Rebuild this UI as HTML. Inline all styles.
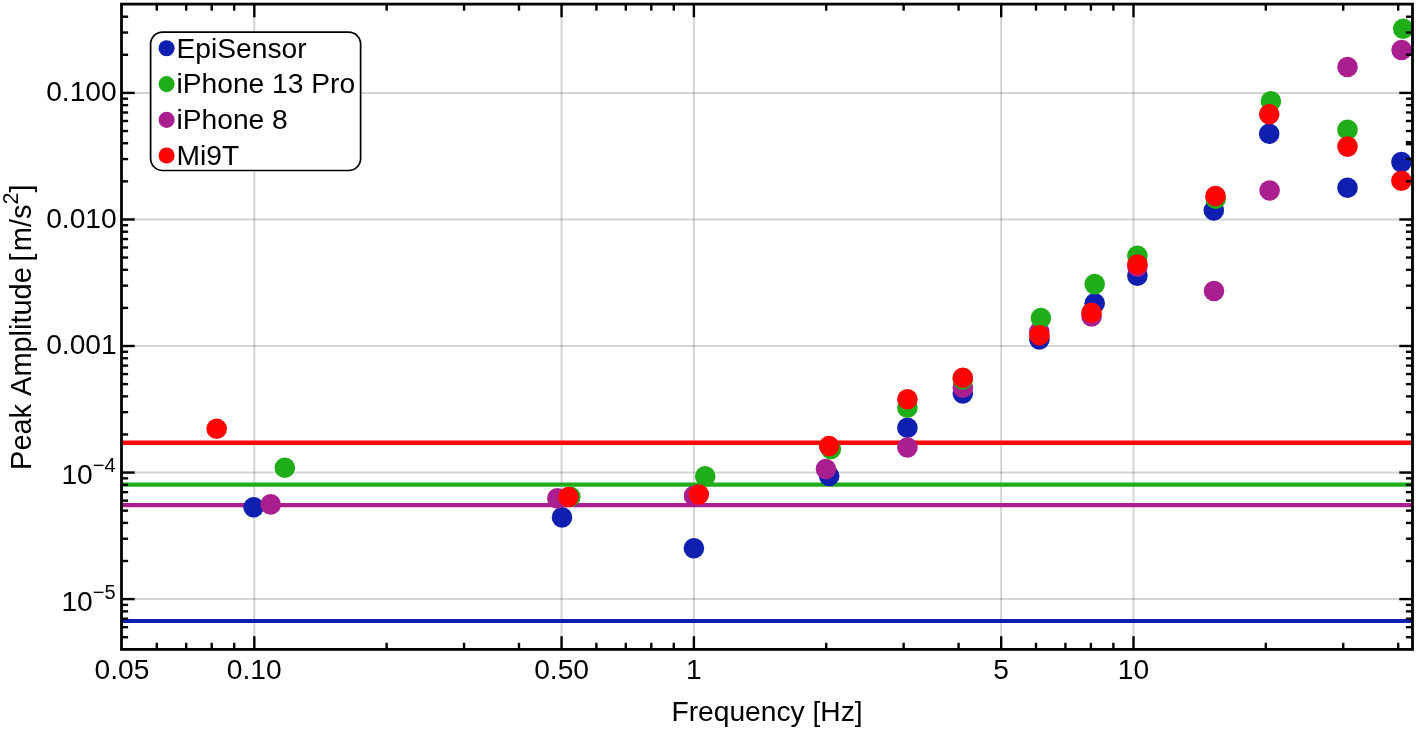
<!DOCTYPE html>
<html lang="en">
<head>
<meta charset="utf-8">
<title>Peak Amplitude vs Frequency</title>
<style>
html,body{margin:0;padding:0;background:#fff;}
body{width:1416px;height:731px;overflow:hidden;}
svg text{font-family:"Liberation Sans",Arial,Helvetica,sans-serif;font-kerning:none;}
</style>
</head>
<body>
<svg width="1416" height="731" viewBox="0 0 1416 731" style="display:block">
<rect width="1416" height="731" fill="#ffffff"/>
<g stroke="#000" stroke-opacity="0.17" stroke-width="2" fill="none">
<line x1="254.30" y1="4.1" x2="254.30" y2="649.4"/>
<line x1="561.57" y1="4.1" x2="561.57" y2="649.4"/>
<line x1="693.90" y1="4.1" x2="693.90" y2="649.4"/>
<line x1="1001.17" y1="4.1" x2="1001.17" y2="649.4"/>
<line x1="1133.50" y1="4.1" x2="1133.50" y2="649.4"/>
<line x1="121.5" y1="92.90" x2="1412.5" y2="92.90"/>
<line x1="121.5" y1="219.45" x2="1412.5" y2="219.45"/>
<line x1="121.5" y1="346.00" x2="1412.5" y2="346.00"/>
<line x1="121.5" y1="472.55" x2="1412.5" y2="472.55"/>
<line x1="121.5" y1="599.10" x2="1412.5" y2="599.10"/>
</g>
<line x1="121.5" y1="442.8" x2="1412.5" y2="442.8" stroke="#fe0505" stroke-width="4.6"/>
<line x1="121.5" y1="484.7" x2="1412.5" y2="484.7" stroke="#1fae19" stroke-width="4.2"/>
<line x1="121.5" y1="505.1" x2="1412.5" y2="505.1" stroke="#aa1f8f" stroke-width="4.2"/>
<line x1="121.5" y1="621.0" x2="1412.5" y2="621.0" stroke="#0f1fb0" stroke-width="4.2"/>
<g fill="#0f1fb0">
<circle cx="253.6" cy="507.2" r="10.3"/>
<circle cx="562" cy="517.4" r="10.3"/>
<circle cx="693.9" cy="548.2" r="10.3"/>
<circle cx="829.2" cy="476.0" r="10.3"/>
<circle cx="907.4" cy="427.8" r="10.3"/>
<circle cx="962.8" cy="393.4" r="10.3"/>
<circle cx="1039.4" cy="339.5" r="10.3"/>
<circle cx="1094.7" cy="303.3" r="10.3"/>
<circle cx="1137.4" cy="275.8" r="10.3"/>
<circle cx="1213.8" cy="210.5" r="10.3"/>
<circle cx="1269.2" cy="133.8" r="10.3"/>
<circle cx="1347.5" cy="187.7" r="10.3"/>
<circle cx="1401.4" cy="162.1" r="10.3"/>
</g>
<g fill="#aa1f8f">
<circle cx="270.7" cy="504.4" r="10.3"/>
<circle cx="557.3" cy="498.4" r="10.3"/>
<circle cx="694" cy="495.9" r="10.3"/>
<circle cx="825.9" cy="469.0" r="10.3"/>
<circle cx="907.4" cy="447.5" r="10.3"/>
<circle cx="962.8" cy="387.8" r="10.3"/>
<circle cx="1039.3" cy="331.8" r="10.3"/>
<circle cx="1091.6" cy="316.5" r="10.3"/>
<circle cx="1137.4" cy="266.8" r="10.3"/>
<circle cx="1214" cy="291.0" r="10.3"/>
<circle cx="1269.6" cy="190.5" r="10.3"/>
<circle cx="1347.5" cy="67.0" r="10.3"/>
<circle cx="1401.6" cy="50.0" r="10.3"/>
</g>
<g fill="#1fae19">
<circle cx="284.8" cy="467.8" r="10.3"/>
<circle cx="570.4" cy="496.7" r="10.3"/>
<circle cx="705.2" cy="476.3" r="10.3"/>
<circle cx="830.9" cy="449.0" r="10.3"/>
<circle cx="907.4" cy="407.8" r="10.3"/>
<circle cx="962.8" cy="379.5" r="10.3"/>
<circle cx="1040.9" cy="318.1" r="10.3"/>
<circle cx="1094.7" cy="284.1" r="10.3"/>
<circle cx="1137.4" cy="255.7" r="10.3"/>
<circle cx="1215.7" cy="198.7" r="10.3"/>
<circle cx="1270.9" cy="101.2" r="10.3"/>
<circle cx="1347.5" cy="129.7" r="10.3"/>
<circle cx="1403.2" cy="28.8" r="10.3"/>
</g>
<g fill="#fe0505">
<circle cx="216.7" cy="428.7" r="10.3"/>
<circle cx="568.5" cy="497.0" r="10.3"/>
<circle cx="698.8" cy="494.5" r="10.3"/>
<circle cx="829.1" cy="446.0" r="10.3"/>
<circle cx="907.4" cy="399.2" r="10.3"/>
<circle cx="962.8" cy="377.8" r="10.3"/>
<circle cx="1039.4" cy="335.2" r="10.3"/>
<circle cx="1091.5" cy="312.8" r="10.3"/>
<circle cx="1137.4" cy="264.5" r="10.3"/>
<circle cx="1215.5" cy="196.0" r="10.3"/>
<circle cx="1269.2" cy="114.2" r="10.3"/>
<circle cx="1347.5" cy="146.6" r="10.3"/>
<circle cx="1401.4" cy="180.8" r="10.3"/>
</g>
<g stroke="#000" stroke-width="2.4" fill="none">
<line x1="254.30" y1="649.4" x2="254.30" y2="636.20"/>
<line x1="254.30" y1="4.1" x2="254.30" y2="17.30"/>
<line x1="561.57" y1="649.4" x2="561.57" y2="636.20"/>
<line x1="561.57" y1="4.1" x2="561.57" y2="17.30"/>
<line x1="693.90" y1="649.4" x2="693.90" y2="636.20"/>
<line x1="693.90" y1="4.1" x2="693.90" y2="17.30"/>
<line x1="1001.17" y1="649.4" x2="1001.17" y2="636.20"/>
<line x1="1001.17" y1="4.1" x2="1001.17" y2="17.30"/>
<line x1="1133.50" y1="649.4" x2="1133.50" y2="636.20"/>
<line x1="1133.50" y1="4.1" x2="1133.50" y2="17.30"/>
<line x1="156.78" y1="649.4" x2="156.78" y2="642.80"/>
<line x1="156.78" y1="4.1" x2="156.78" y2="10.70"/>
<line x1="186.21" y1="649.4" x2="186.21" y2="642.80"/>
<line x1="186.21" y1="4.1" x2="186.21" y2="10.70"/>
<line x1="211.70" y1="649.4" x2="211.70" y2="642.80"/>
<line x1="211.70" y1="4.1" x2="211.70" y2="10.70"/>
<line x1="234.19" y1="649.4" x2="234.19" y2="642.80"/>
<line x1="234.19" y1="4.1" x2="234.19" y2="10.70"/>
<line x1="386.63" y1="649.4" x2="386.63" y2="642.80"/>
<line x1="386.63" y1="4.1" x2="386.63" y2="10.70"/>
<line x1="464.04" y1="649.4" x2="464.04" y2="642.80"/>
<line x1="464.04" y1="4.1" x2="464.04" y2="10.70"/>
<line x1="518.97" y1="649.4" x2="518.97" y2="642.80"/>
<line x1="518.97" y1="4.1" x2="518.97" y2="10.70"/>
<line x1="596.38" y1="649.4" x2="596.38" y2="642.80"/>
<line x1="596.38" y1="4.1" x2="596.38" y2="10.70"/>
<line x1="625.81" y1="649.4" x2="625.81" y2="642.80"/>
<line x1="625.81" y1="4.1" x2="625.81" y2="10.70"/>
<line x1="651.30" y1="649.4" x2="651.30" y2="642.80"/>
<line x1="651.30" y1="4.1" x2="651.30" y2="10.70"/>
<line x1="673.79" y1="649.4" x2="673.79" y2="642.80"/>
<line x1="673.79" y1="4.1" x2="673.79" y2="10.70"/>
<line x1="826.23" y1="649.4" x2="826.23" y2="642.80"/>
<line x1="826.23" y1="4.1" x2="826.23" y2="10.70"/>
<line x1="903.64" y1="649.4" x2="903.64" y2="642.80"/>
<line x1="903.64" y1="4.1" x2="903.64" y2="10.70"/>
<line x1="958.57" y1="649.4" x2="958.57" y2="642.80"/>
<line x1="958.57" y1="4.1" x2="958.57" y2="10.70"/>
<line x1="1035.98" y1="649.4" x2="1035.98" y2="642.80"/>
<line x1="1035.98" y1="4.1" x2="1035.98" y2="10.70"/>
<line x1="1065.41" y1="649.4" x2="1065.41" y2="642.80"/>
<line x1="1065.41" y1="4.1" x2="1065.41" y2="10.70"/>
<line x1="1090.90" y1="649.4" x2="1090.90" y2="642.80"/>
<line x1="1090.90" y1="4.1" x2="1090.90" y2="10.70"/>
<line x1="1113.39" y1="649.4" x2="1113.39" y2="642.80"/>
<line x1="1113.39" y1="4.1" x2="1113.39" y2="10.70"/>
<line x1="1265.83" y1="649.4" x2="1265.83" y2="642.80"/>
<line x1="1265.83" y1="4.1" x2="1265.83" y2="10.70"/>
<line x1="1343.24" y1="649.4" x2="1343.24" y2="642.80"/>
<line x1="1343.24" y1="4.1" x2="1343.24" y2="10.70"/>
<line x1="1398.17" y1="649.4" x2="1398.17" y2="642.80"/>
<line x1="1398.17" y1="4.1" x2="1398.17" y2="10.70"/>
<line x1="121.5" y1="92.90" x2="134.70" y2="92.90"/>
<line x1="1412.5" y1="92.90" x2="1399.30" y2="92.90"/>
<line x1="121.5" y1="219.45" x2="134.70" y2="219.45"/>
<line x1="1412.5" y1="219.45" x2="1399.30" y2="219.45"/>
<line x1="121.5" y1="346.00" x2="134.70" y2="346.00"/>
<line x1="1412.5" y1="346.00" x2="1399.30" y2="346.00"/>
<line x1="121.5" y1="472.55" x2="134.70" y2="472.55"/>
<line x1="1412.5" y1="472.55" x2="1399.30" y2="472.55"/>
<line x1="121.5" y1="599.10" x2="134.70" y2="599.10"/>
<line x1="1412.5" y1="599.10" x2="1399.30" y2="599.10"/>
<line x1="121.5" y1="637.20" x2="128.10" y2="637.20"/>
<line x1="1412.5" y1="637.20" x2="1405.90" y2="637.20"/>
<line x1="121.5" y1="627.17" x2="128.10" y2="627.17"/>
<line x1="1412.5" y1="627.17" x2="1405.90" y2="627.17"/>
<line x1="121.5" y1="618.70" x2="128.10" y2="618.70"/>
<line x1="1412.5" y1="618.70" x2="1405.90" y2="618.70"/>
<line x1="121.5" y1="611.36" x2="128.10" y2="611.36"/>
<line x1="1412.5" y1="611.36" x2="1405.90" y2="611.36"/>
<line x1="121.5" y1="604.89" x2="128.10" y2="604.89"/>
<line x1="1412.5" y1="604.89" x2="1405.90" y2="604.89"/>
<line x1="121.5" y1="561.00" x2="128.10" y2="561.00"/>
<line x1="1412.5" y1="561.00" x2="1405.90" y2="561.00"/>
<line x1="121.5" y1="538.72" x2="128.10" y2="538.72"/>
<line x1="1412.5" y1="538.72" x2="1405.90" y2="538.72"/>
<line x1="121.5" y1="522.91" x2="128.10" y2="522.91"/>
<line x1="1412.5" y1="522.91" x2="1405.90" y2="522.91"/>
<line x1="121.5" y1="510.65" x2="128.10" y2="510.65"/>
<line x1="1412.5" y1="510.65" x2="1405.90" y2="510.65"/>
<line x1="121.5" y1="500.62" x2="128.10" y2="500.62"/>
<line x1="1412.5" y1="500.62" x2="1405.90" y2="500.62"/>
<line x1="121.5" y1="492.15" x2="128.10" y2="492.15"/>
<line x1="1412.5" y1="492.15" x2="1405.90" y2="492.15"/>
<line x1="121.5" y1="484.81" x2="128.10" y2="484.81"/>
<line x1="1412.5" y1="484.81" x2="1405.90" y2="484.81"/>
<line x1="121.5" y1="478.34" x2="128.10" y2="478.34"/>
<line x1="1412.5" y1="478.34" x2="1405.90" y2="478.34"/>
<line x1="121.5" y1="434.45" x2="128.10" y2="434.45"/>
<line x1="1412.5" y1="434.45" x2="1405.90" y2="434.45"/>
<line x1="121.5" y1="412.17" x2="128.10" y2="412.17"/>
<line x1="1412.5" y1="412.17" x2="1405.90" y2="412.17"/>
<line x1="121.5" y1="396.36" x2="128.10" y2="396.36"/>
<line x1="1412.5" y1="396.36" x2="1405.90" y2="396.36"/>
<line x1="121.5" y1="384.10" x2="128.10" y2="384.10"/>
<line x1="1412.5" y1="384.10" x2="1405.90" y2="384.10"/>
<line x1="121.5" y1="374.07" x2="128.10" y2="374.07"/>
<line x1="1412.5" y1="374.07" x2="1405.90" y2="374.07"/>
<line x1="121.5" y1="365.60" x2="128.10" y2="365.60"/>
<line x1="1412.5" y1="365.60" x2="1405.90" y2="365.60"/>
<line x1="121.5" y1="358.26" x2="128.10" y2="358.26"/>
<line x1="1412.5" y1="358.26" x2="1405.90" y2="358.26"/>
<line x1="121.5" y1="351.79" x2="128.10" y2="351.79"/>
<line x1="1412.5" y1="351.79" x2="1405.90" y2="351.79"/>
<line x1="121.5" y1="307.90" x2="128.10" y2="307.90"/>
<line x1="1412.5" y1="307.90" x2="1405.90" y2="307.90"/>
<line x1="121.5" y1="285.62" x2="128.10" y2="285.62"/>
<line x1="1412.5" y1="285.62" x2="1405.90" y2="285.62"/>
<line x1="121.5" y1="269.81" x2="128.10" y2="269.81"/>
<line x1="1412.5" y1="269.81" x2="1405.90" y2="269.81"/>
<line x1="121.5" y1="257.55" x2="128.10" y2="257.55"/>
<line x1="1412.5" y1="257.55" x2="1405.90" y2="257.55"/>
<line x1="121.5" y1="247.52" x2="128.10" y2="247.52"/>
<line x1="1412.5" y1="247.52" x2="1405.90" y2="247.52"/>
<line x1="121.5" y1="239.05" x2="128.10" y2="239.05"/>
<line x1="1412.5" y1="239.05" x2="1405.90" y2="239.05"/>
<line x1="121.5" y1="231.71" x2="128.10" y2="231.71"/>
<line x1="1412.5" y1="231.71" x2="1405.90" y2="231.71"/>
<line x1="121.5" y1="225.24" x2="128.10" y2="225.24"/>
<line x1="1412.5" y1="225.24" x2="1405.90" y2="225.24"/>
<line x1="121.5" y1="181.35" x2="128.10" y2="181.35"/>
<line x1="1412.5" y1="181.35" x2="1405.90" y2="181.35"/>
<line x1="121.5" y1="159.07" x2="128.10" y2="159.07"/>
<line x1="1412.5" y1="159.07" x2="1405.90" y2="159.07"/>
<line x1="121.5" y1="143.26" x2="128.10" y2="143.26"/>
<line x1="1412.5" y1="143.26" x2="1405.90" y2="143.26"/>
<line x1="121.5" y1="131.00" x2="128.10" y2="131.00"/>
<line x1="1412.5" y1="131.00" x2="1405.90" y2="131.00"/>
<line x1="121.5" y1="120.97" x2="128.10" y2="120.97"/>
<line x1="1412.5" y1="120.97" x2="1405.90" y2="120.97"/>
<line x1="121.5" y1="112.50" x2="128.10" y2="112.50"/>
<line x1="1412.5" y1="112.50" x2="1405.90" y2="112.50"/>
<line x1="121.5" y1="105.16" x2="128.10" y2="105.16"/>
<line x1="1412.5" y1="105.16" x2="1405.90" y2="105.16"/>
<line x1="121.5" y1="98.69" x2="128.10" y2="98.69"/>
<line x1="1412.5" y1="98.69" x2="1405.90" y2="98.69"/>
<line x1="121.5" y1="54.80" x2="128.10" y2="54.80"/>
<line x1="1412.5" y1="54.80" x2="1405.90" y2="54.80"/>
<line x1="121.5" y1="32.52" x2="128.10" y2="32.52"/>
<line x1="1412.5" y1="32.52" x2="1405.90" y2="32.52"/>
<line x1="121.5" y1="16.71" x2="128.10" y2="16.71"/>
<line x1="1412.5" y1="16.71" x2="1405.90" y2="16.71"/>
</g>
<rect x="1405.9" y="140.9" width="6.6" height="4.5" fill="#000"/>
<rect x="121.5" y="4.1" width="1291.0" height="645.3" fill="none" stroke="#000" stroke-width="2.8"/>
<rect x="150.6" y="32.1" width="210" height="138.4" rx="12" ry="12" fill="#fff" stroke="#000" stroke-width="1.7"/>
<circle cx="166.6" cy="48.3" r="8.05" fill="#0f1fb0"/>
<text x="176.5" y="57.6" font-size="28.2" fill="#000">EpiSensor</text>
<circle cx="166.6" cy="84.1" r="8.05" fill="#1fae19"/>
<text x="176.5" y="93.4" font-size="28.2" fill="#000">iPhone 13 Pro</text>
<circle cx="166.6" cy="119.9" r="8.05" fill="#aa1f8f"/>
<text x="176.5" y="129.2" font-size="28.2" fill="#000">iPhone 8</text>
<circle cx="166.6" cy="155.5" r="8.05" fill="#fe0505"/>
<text x="176.5" y="164.8" font-size="28.2" fill="#000">Mi9T</text>
<g font-size="28.2" fill="#000" text-anchor="middle">
<text x="121.97" y="679.4">0.05</text>
<text x="254.30" y="679.4">0.10</text>
<text x="561.57" y="679.4">0.50</text>
<text x="693.90" y="679.4">1</text>
<text x="1001.17" y="679.4">5</text>
<text x="1133.50" y="679.4">10</text>
</g>
<g font-size="28.2" fill="#000" text-anchor="end">
<text x="116.7" y="101.00">0.100</text>
<text x="116.7" y="227.55">0.010</text>
<text x="116.7" y="354.10">0.001</text>
<text x="115.6" y="484.05">10<tspan font-size="20" dy="-12">−4</tspan></text>
<text x="115.6" y="610.60">10<tspan font-size="20" dy="-12">−5</tspan></text>
</g>
<text x="767" y="721.3" font-size="28.2" text-anchor="middle" fill="#000">Frequency [Hz]</text>
<text transform="translate(31 327.2) rotate(-90)" font-size="28.95" text-anchor="middle" fill="#000">Peak Amplitude <tspan dx="-2.2">[</tspan><tspan dx="2.2">m/s</tspan><tspan font-size="21.5" dy="-12.8">2</tspan><tspan dy="12.8">]</tspan></text>
</svg>
</body>
</html>
